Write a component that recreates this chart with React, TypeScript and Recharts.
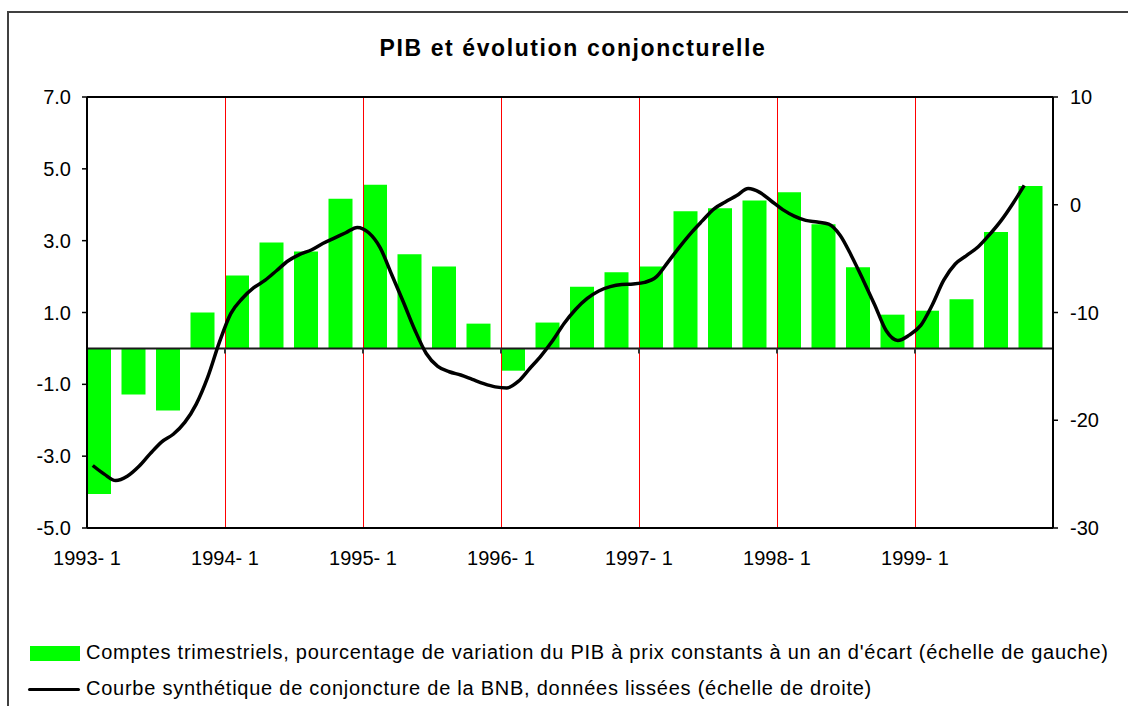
import {
  Bar,
  ComposedChart,
  Line,
  ReferenceLine,
  XAxis,
  YAxis,
} from 'recharts';

const FONT = '"Liberation Sans", Arial, sans-serif';

const years = [1993, 1994, 1995, 1996, 1997, 1998, 1999];
const yearLabels = ['1993- 1', '1994- 1', '1995- 1', '1996- 1', '1997- 1', '1998- 1', '1999- 1'];

// quarterly GDP growth, y/y % (left scale)
const gdpGrowth = [
  -4.05, -1.28, -1.73, 1.0,
  2.03, 2.95, 2.7, 4.17,
  4.56, 2.62, 2.28, 0.69,
  -0.62, 0.72, 1.72, 2.12,
  2.28, 3.82, 3.9, 4.12,
  4.35, 3.46, 2.26, 0.94,
  1.05, 1.37, 3.24, 4.52,
];

// BNB business barometer, smoothed, monthly from Jan 1993 (right scale)
const bnbCurve = [
  -24.2, -25.0, -25.6, -25.2, -24.3, -23.1, -22.0, -21.3, -20.2, -18.5, -16.0, -12.8,
  -10.1, -8.7, -7.7, -7.0, -6.1, -5.2, -4.6, -4.2, -3.6, -3.1, -2.6, -2.1,
  -2.6, -4.0, -6.5, -9.0, -11.6, -13.8, -15.0, -15.5, -15.8, -16.2, -16.6, -16.9,
  -17.0, -16.4, -15.2, -14.0, -12.6, -11.0, -9.7, -8.7, -8.0, -7.6, -7.4, -7.35,
  -7.2, -6.7, -5.35, -3.95, -2.65, -1.5, -0.4, 0.25, 0.85, 1.5, 1.15, 0.35,
  -0.45, -1.05, -1.45, -1.6, -1.8, -2.85, -4.8, -7.0, -9.3, -11.7, -12.6, -12.1,
  -11.2, -9.3, -7.0, -5.5, -4.7, -3.9, -2.75, -1.45, 0.1, 1.8,
];

const leftTicks = [-5, -3, -1, 1, 3, 5, 7];
const rightTicks = [-30, -20, -10, 0, 10];

const quarterRows = gdpGrowth.map((v, i) => ({
  quarter: `${years[Math.floor(i / 4)]}-${(i % 4) + 1}`,
  gdp: v,
}));

const monthRows = bnbCurve.map((v, i) => ({ t: i + 0.5, bnb: v }));

const yearTicks = yearLabels.map((_, i) => i * 12);

const tickStyle = { fontSize: 20, fill: '#000', fontFamily: FONT };

const legendText = {
  position: 'absolute' as const,
  left: 86,
  fontSize: 20,
  letterSpacing: 0.75,
  lineHeight: '22px',
  color: '#000',
  whiteSpace: 'nowrap' as const,
};

export default function App() {
  return (
    <div
      style={{
        position: 'absolute',
        left: 0,
        top: 0,
        width: 1128,
        height: 706,
        background: '#fff',
        overflow: 'hidden',
        fontFamily: FONT,
      }}
    >
      <div
        style={{
          position: 'absolute',
          left: 7,
          top: 11,
          width: 1140,
          height: 720,
          border: '2px solid #404040',
          boxSizing: 'border-box',
        }}
      />
      <div
        style={{
          position: 'absolute',
          left: 8,
          top: 37,
          width: 1130,
          textAlign: 'center',
          fontSize: 23,
          letterSpacing: 1.6,
          fontWeight: 'bold',
          lineHeight: '23px',
          color: '#000',
        }}
      >
        PIB et évolution conjoncturelle
      </div>

      <div style={{ position: 'absolute', left: 0, top: 0 }}>
        <ComposedChart
          width={1128}
          height={706}
          data={quarterRows}
          margin={{ top: 97, right: 0, bottom: 138, left: 27 }}
          barGap={0}
          barCategoryGap={0}
        >
          <XAxis xAxisId="q" dataKey="quarter" type="category" hide />
          <XAxis
            xAxisId="m"
            dataKey="t"
            type="number"
            domain={[0, 84]}
            allowDataOverflow
            ticks={yearTicks}
            interval={0}
            tickFormatter={(v: number) => yearLabels[Math.round(v / 12)]}
            tick={tickStyle}
            tickLine={false}
            tickSize={0}
            tickMargin={23}
            height={40}
            axisLine={{ stroke: '#000', strokeWidth: 2 }}
          />
          <YAxis
            yAxisId="left"
            domain={[-5, 7]}
            ticks={leftTicks}
            interval={0}
            allowDataOverflow
            tickFormatter={(v: number) => v.toFixed(1)}
            tick={tickStyle}
            width={60}
            tickSize={5}
            tickMargin={11}
            axisLine={{ stroke: '#000', strokeWidth: 2 }}
            tickLine={{ stroke: '#000', strokeWidth: 1.5 }}
          />
          <YAxis
            yAxisId="right"
            orientation="right"
            domain={[-30, 10]}
            ticks={rightTicks}
            interval={0}
            allowDataOverflow
            tick={tickStyle}
            width={75}
            tickSize={5}
            tickMargin={12}
            axisLine={{ stroke: '#000', strokeWidth: 2 }}
            tickLine={{ stroke: '#000', strokeWidth: 1.5 }}
          />

          {yearTicks.slice(1).map((x) => (
            <ReferenceLine
              key={`v${x}`}
              xAxisId="m"
              yAxisId="left"
              x={x}
              stroke="#ff0000"
              strokeWidth={1}
              shapeRendering="crispEdges"
            />
          ))}

          <Bar
            xAxisId="q"
            yAxisId="left"
            dataKey="gdp"
            fill="#00ff00"
            barSize={24}
            isAnimationActive={false}
          />
          <Bar
            xAxisId="q"
            yAxisId="left"
            dataKey="spacer"
            fill="none"
            barSize={10}
            isAnimationActive={false}
          />

          <ReferenceLine xAxisId="m" yAxisId="left" y={7} stroke="#000" strokeWidth={2} />
          <ReferenceLine xAxisId="m" yAxisId="left" y={0} stroke="#1a1a1a" strokeWidth={2} />
          {yearTicks.slice(1).map((x) => (
            <ReferenceLine
              key={`t${x}`}
              xAxisId="m"
              yAxisId="left"
              segment={[
                { x, y: 0 },
                { x, y: -0.14 },
              ]}
              stroke="#333"
              strokeWidth={2}
            />
          ))}

          <Line
            xAxisId="m"
            yAxisId="right"
            data={monthRows}
            dataKey="bnb"
            type="monotone"
            stroke="#000"
            strokeWidth={3.5}
            dot={false}
            activeDot={false}
            isAnimationActive={false}
          />
        </ComposedChart>
      </div>

      <div
        style={{
          position: 'absolute',
          left: 30,
          top: 646,
          width: 50,
          height: 15,
          background: '#00ff00',
        }}
      />
      <div style={{ ...legendText, top: 641 }}>
        Comptes trimestriels, pourcentage de variation du PIB à prix constants à un an d'écart (échelle de gauche)
      </div>
      <div
        style={{
          position: 'absolute',
          left: 28,
          top: 688,
          width: 52,
          height: 3,
          background: '#000',
          borderRadius: 2,
        }}
      />
      <div style={{ ...legendText, top: 677 }}>
        Courbe synthétique de conjoncture de la BNB, données lissées (échelle de droite)
      </div>
    </div>
  );
}
